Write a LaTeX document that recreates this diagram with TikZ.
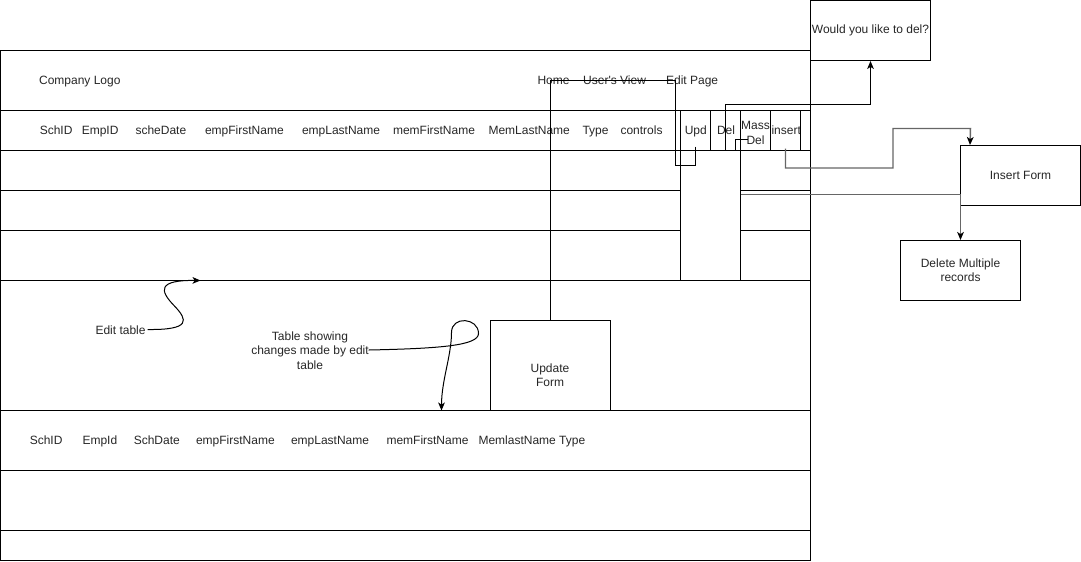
\documentclass[tikz,border=0pt]{standalone}
\usepackage{fontspec}
\newfontfamily\arial{Liberation Sans}
\usetikzlibrary{arrows.meta,calc}
\definecolor{txt}{gray}{0.15}
\definecolor{gline}{gray}{0.4}
\begin{document}
\begin{tikzpicture}[x=0.75pt,y=-0.75pt,line width=0.75pt,
  f/.style={font=\arial\fontsize{9pt}{10.8pt}\selectfont, text=txt},
  lbl/.style={f, inner sep=0pt, anchor=west, text height=8.14pt, text depth=1.9pt},
  mlbl/.style={f, inner sep=0pt, align=center},
  box/.style={f, draw=black, line width=0.75pt, inner sep=0pt, align=center, minimum width=90pt, minimum height=45pt},
  tip/.style={-{Stealth[length=6pt,width=5pt,inset=1.6pt,color=black]}},
  conn/.style={draw=black, line width=0.75pt},
  gconn/.style={draw=gline, line width=1.1pt},
]
\useasboundingbox (0,0) rectangle (1081,561);

% top bar
\node[lbl] (logo) at (38.6,80) {Company Logo};
\node[lbl] (home) at (537,80) {Home};
\node[lbl] (uview) at (582.7,80) {User's View};
\node[lbl] (editp) at (665.6,80) {Edit Page};

% first table header
\node[lbl] (h1) at (39.3,130) {SchID};
\node[lbl] (h2) at (81.3,130) {EmpID};
\node[lbl] (h3) at (135,130) {scheDate};
\node[lbl] (h4) at (204.5,130) {empFirstName};
\node[lbl] (h5) at (301.5,130) {empLastName};
\node[lbl] (h6) at (392.5,130) {memFirstName};
\node[lbl] (h7) at (488,130) {MemLastName};
\node[lbl] (h8) at (582,130) {Type};
\node[lbl] (h9) at (620,130) {controls};
\node[lbl] (h10) at (684.3,130) {Upd};
\node[lbl] (h11) at (716.5,130) {Del};
\node[mlbl] (h12) at (755.5,133) {Mass\\Del};
\node[lbl] (h13) at (771,130) {insert};

% second table header
\node[lbl] (b1) at (29.3,440) {SchID};
\node[lbl] (b2) at (82,440) {EmpId};
\node[lbl] (b3) at (133.3,440) {SchDate};
\node[lbl] (b4) at (195.5,440) {empFirstName};
\node[lbl] (b5) at (290.5,440) {empLastName};
\node[lbl] (b6) at (386,440) {memFirstName};
\node[lbl] (b7) at (478,440) {MemlastName Type};

% annotations
\node[lbl] (edt) at (95,330) {Edit table};
\node[mlbl] (tsc) at (310,350.5) {Table showing\\changes made by edit\\table};
\node[mlbl] (updt) at (550,375) {Update\\Form};

\begin{scope}[shift={(0.5,0.5)}]
% table frame and grid
\draw (0,50) rectangle (810,560);
\foreach \yy in {110,150,280,410,470,530} \draw (0,\yy) -- (810,\yy);
\foreach \yy in {190,230} {\draw (0,\yy) -- (680,\yy); \draw (740,\yy) -- (810,\yy);}
\draw (680,110) -- (680,280);
\draw (740,110) -- (740,280);
\foreach \xx in {710,770,800} \draw (\xx,110) -- (\xx,150);

% boxes
\node[box] (confirm) at (870,30) {Would you like to del?};
\node[box] (insf) at (1020,175) {Insert Form};
\node[box] (delm) at (960,270) {Delete Multiple\\records};
\node[box, minimum height=67.5pt] (updf) at (550,365) {};

% connector end points
\coordinate (updsrc) at (695,146);
\coordinate (delsrc) at (725,150);
\coordinate (inssrc) at (785,148);
\coordinate (masssrc) at (747,139);
\coordinate (massout) at (740,194);
\coordinate (edtend) at (200,280);
\coordinate (tscend) at (441,410);

% connectors
\draw[conn] (updsrc) -- (695,165) -- (675,165) -- (675,80) -- (550,80) -- (updf.north);
\draw[conn,tip] (delsrc) -- (725,104) -- (870,104) -- (confirm.south);
\draw[gconn,tip] (inssrc) -- (785,167.5) -- (892.5,167.5) -- (892.5,128) -- (970,128) -- ($(insf.north west)+(10,0)$);
\draw[conn] (masssrc) -- (735,139) -- (735,150);
\draw[gconn,tip] (massout) -- (960,194) -- (delm.north);
\draw[conn,tip] ($(edt.east)+(1.5,-0.5)$) .. controls (190,329.5) and (188,320) .. (173.5,305) .. controls (159,290) and (157,279.5) .. (edtend);
\draw[conn,tip] ($(tsc.east)+(-0.5,-0.5)$) .. controls (440,348) and (478,345) .. (478,333) .. controls (478,317) and (451,315) .. (451,332) .. controls (451,355) and (441,380) .. (tscend);
\end{scope}
\end{tikzpicture}
\end{document}
